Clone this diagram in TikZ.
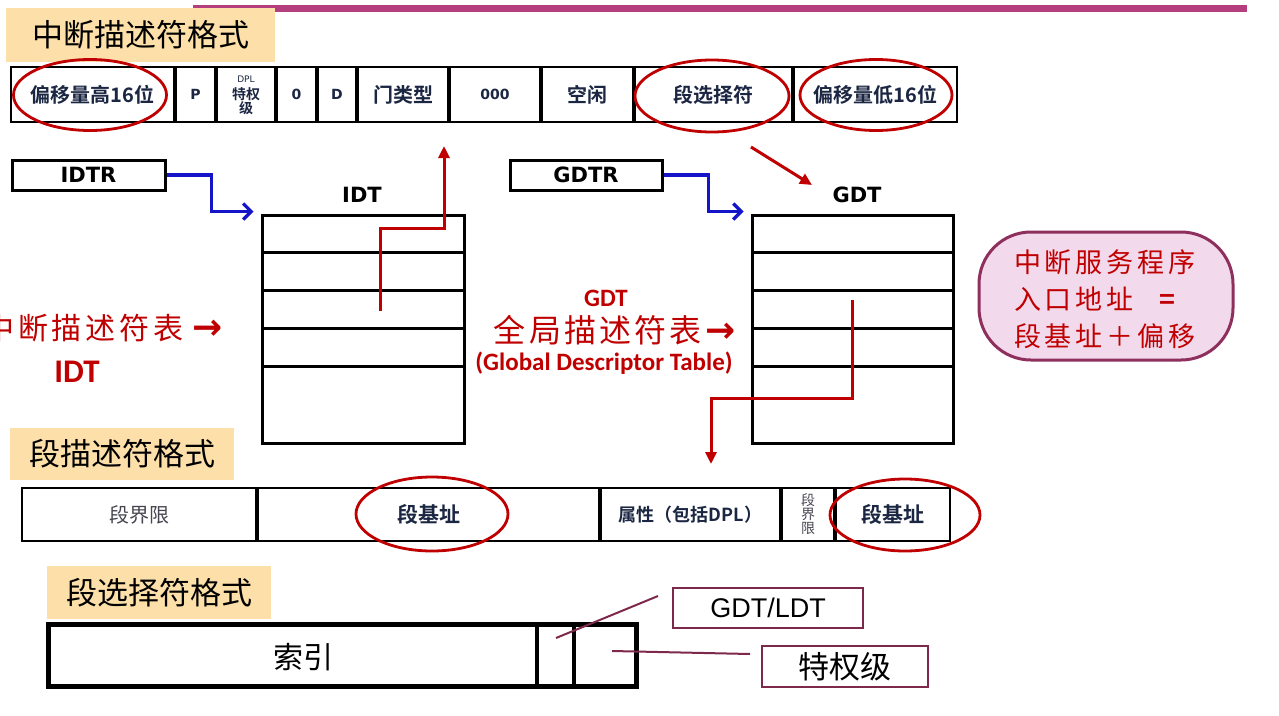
\documentclass[tikz,border=0pt]{standalone}
\usepackage{fontspec}
\usetikzlibrary{arrows.meta,shapes.geometric}
\newfontfamily\cjk[BoldFont={Noto Sans CJK SC Bold}]{Noto Sans CJK SC}
\newfontfamily\dejab{DejaVu Sans}
\newfontfamily\carl{Carlito}
\newfontfamily\libsans{Liberation Sans}
\newcommand{\fsz}[1]{\fontsize{#1}{#1}\selectfont}
\definecolor{magbar}{RGB}{181,62,126}
\definecolor{beige}{RGB}{253,224,169}
\definecolor{dred}{RGB}{192,0,0}
\definecolor{navy}{RGB}{27,38,66}
\definecolor{bluearr}{RGB}{20,20,200}
\definecolor{pinkfill}{RGB}{242,217,236}
\definecolor{plum}{RGB}{142,47,94}
\definecolor{wine}{RGB}{126,40,75}
\definecolor{softgray}{RGB}{70,70,80}
\begin{document}
\begin{tikzpicture}[x=1pt,y=-1pt,
 title/.style={fill=beige, inner sep=0pt, font=\cjk\fsz{31}, text=black},
 cell/.style={draw=black, line width=2.4pt, inner sep=0pt, text=navy, font=\cjk\bfseries\fsz{20}},
 latcell/.style={cell, font=\dejab\bfseries\fsz{14}},
 redring/.style={ellipse, draw=dred, line width=2.8pt, inner sep=0pt},
 tbl/.style={draw=black, line width=3pt, inner sep=0pt, minimum width=202pt, minimum height=228pt},
 regbox/.style={draw=black, line width=3pt, inner sep=0pt, minimum height=30pt, font=\dejab\bfseries\fsz{21}},
 bluearrow/.style={draw=bluearr, line width=3.2pt, -{Straight Barb[length=8pt,width=16pt]}},
 redarrow/.style={draw=dred, line width=3pt, -{Triangle[length=12pt,width=11pt]}},
 rowline/.style={line width=3pt},
 redtxt/.style={text=dred, inner sep=0pt},
 tagbox/.style={draw=wine, line width=2.5pt, inner sep=0pt},
 tagline/.style={draw=wine, line width=2pt},
]
\useasboundingbox (0,0) rectangle (1279,715);
\fill[white] (0,0) rectangle (1279,715);
\fill[magbar] (193,5) rectangle (1247,12);

% ---- interrupt descriptor format
\node[title, minimum width=269pt, minimum height=54pt] (t1) at (140.5,35) {中断描述符格式};
\node[cell, minimum width=163pt, minimum height=55pt] (c1) at (92.5,94.5) {偏移量高16位};
\node[latcell, minimum width=39pt, minimum height=55pt] (c2) at (195.5,94.5) {P};
\node[cell, minimum width=58pt, minimum height=55pt] (c3) at (246,94.5) {};
\node[font=\dejab\fsz{9}, text=navy, inner sep=0pt] (dpl) at (246,79) {DPL};
\node[font=\cjk\bfseries\fsz{14}, text=navy, align=center, inner sep=0pt] (dplcn) at (246,101) {特权\\级};
\node[latcell, minimum width=39pt, minimum height=55pt] (c4) at (296.5,94.5) {0};
\node[latcell, minimum width=38pt, minimum height=55pt] (c5) at (337,94.5) {D};
\node[cell, minimum width=90pt, minimum height=55pt] (c6) at (403,94.5) {门类型};
\node[latcell, minimum width=90pt, minimum height=55pt] (c7) at (495,94.5) {000};
\node[cell, minimum width=91pt, minimum height=55pt] (c8) at (587.5,94.5) {空闲};
\node[cell, minimum width=157pt, minimum height=55pt] (c9) at (713.5,94.5) {段选择符};
\node[cell, minimum width=163pt, minimum height=55pt] (c10) at (875.5,94.5) {偏移量低16位};
\node[redring, minimum width=153pt, minimum height=71pt] (e1) at (90,95) {};
\node[redring, minimum width=154pt, minimum height=72pt] (e2) at (712,96) {};
\node[redring, minimum width=152pt, minimum height=71pt] (e3) at (876,95) {};

% ---- registers and tables
\node[regbox, minimum width=153pt] (idtr) at (88.5,175) {IDTR};
\node[regbox, minimum width=152pt] (gdtr) at (586,175) {GDTR};
\node[font=\dejab\bfseries\fsz{21}, inner sep=0pt] (idtl) at (362,195) {IDT};
\node[font=\dejab\bfseries\fsz{21}, inner sep=0pt] (gdtl) at (857,195) {GDT};
\node[tbl] (idt) at (363,329) {};
\node[tbl, minimum width=201pt] (gdt) at (852.5,329) {};
\foreach \yy in {252,290,328,366}{
  \draw[rowline] (262,\yy) -- (464,\yy);
  \draw[rowline] (752,\yy) -- (953,\yy);
}
\draw[bluearrow] (idtr.east) -- ++(45,0) |- ([xshift=-7pt,yshift=2pt]idt.north west);
\draw[bluearrow] (gdtr.east) -- ++(45,0) |- ([xshift=-7pt,yshift=2pt]gdt.north west);

\coordinate (idtsrc) at (380,311);
\coordinate (idtout) at (444,146);
\draw[redarrow] (idtsrc) -- (380,228) -| (idtout);
\coordinate (gdtsrc) at (852,300);
\coordinate (gdtout) at (711,464);
\draw[redarrow] (gdtsrc) -- (852,398) -| (gdtout);
\coordinate (selsrc) at (751,147);
\coordinate (seldst) at (812,185);
\draw[redarrow] (selsrc) -- (seldst);

% ---- red annotations
\node[redtxt, anchor=west, font=\cjk\fsz{30}\addfontfeature{LetterSpace=13}] (idtcn) at (-16,328) {中断描述符表\hspace{9pt}{\dejab\bfseries\fsz{36}→}};
\node[redtxt, font=\carl\bfseries\fsz{33}] (idten) at (77,372) {IDT};
\node[redtxt, font=\carl\bfseries\fsz{25}] (gdten) at (606,298) {GDT};
\node[redtxt, font=\cjk\fsz{32}\addfontfeature{LetterSpace=10}] (gdtcn) at (615,330) {全局描述符表\hspace{4pt}{\dejab\bfseries\fsz{36}→}};
\node[redtxt, font=\carl\bfseries\fsz{25}] (gdtfull) at (604,363) {(Global Descriptor Table)};

\node[draw=plum, fill=pinkfill, line width=3pt, rounded corners=52pt, minimum width=254pt, minimum height=128pt, inner sep=0pt] (isr) at (1106,296) {};
\node[redtxt, anchor=west, align=left, font=\cjk\fontsize{27}{37}\selectfont\addfontfeature{LetterSpace=14}] (isrtxt) at (1014,299) {中断服务程序\\入口地址\hspace{26pt}{\bfseries =}\\段基址＋偏移};

% ---- segment descriptor format
\node[title, minimum width=224pt, minimum height=52pt] (t2) at (122,454) {段描述符格式};
\node[cell, minimum width=234pt, minimum height=53pt, font=\cjk\fsz{20}, text=softgray] (s1) at (139,514.5) {段界限};
\node[cell, minimum width=341pt, minimum height=53pt, font=\cjk\bfseries\fsz{21}] (s2) at (428.5,514.5) {段基址};
\node[cell, minimum width=179pt, minimum height=53pt, font=\cjk\bfseries\fsz{18}] (s3) at (690.5,514.5) {属性（包括DPL）};
\node[cell, minimum width=52pt, minimum height=53pt, font=\cjk\fsz{14}, text=softgray, align=center] (s4) at (808,514.5) {段\\界\\限};
\node[cell, minimum width=114pt, minimum height=53pt, font=\cjk\bfseries\fsz{21}] (s5) at (893,514.5) {段基址};
\node[redring, minimum width=152pt, minimum height=74pt] (e4) at (432,514) {};
\node[redring, minimum width=150pt, minimum height=72pt] (e5) at (905,515) {};

% ---- segment selector format
\node[title, minimum width=224pt, minimum height=53pt] (t3) at (159,592.5) {段选择符格式};
\node[draw=black, line width=5pt, inner sep=0pt, minimum width=588pt, minimum height=62pt] (sel) at (342,655) {};
\draw[line width=4pt] (537,624) -- (537,686);
\draw[line width=4pt] (574,624) -- (574,686);
\node[font=\cjk\fsz{30}, inner sep=0pt] (idx) at (303,657) {索引};
\node[tagbox, minimum width=190pt, minimum height=40pt, font=\libsans\fsz{27}] (ti) at (768,608) {GDT/LDT};
\node[tagbox, minimum width=166pt, minimum height=41pt, font=\cjk\fsz{31}] (rpl) at (845,666.5) {特权级};
\coordinate (tiA) at (556,638);
\coordinate (tiB) at (658,596);
\draw[tagline] (tiA) -- (tiB);
\coordinate (rplA) at (612,651);
\coordinate (rplB) at (750,654);
\draw[tagline] (rplA) -- (rplB);
\end{tikzpicture}
\end{document}
